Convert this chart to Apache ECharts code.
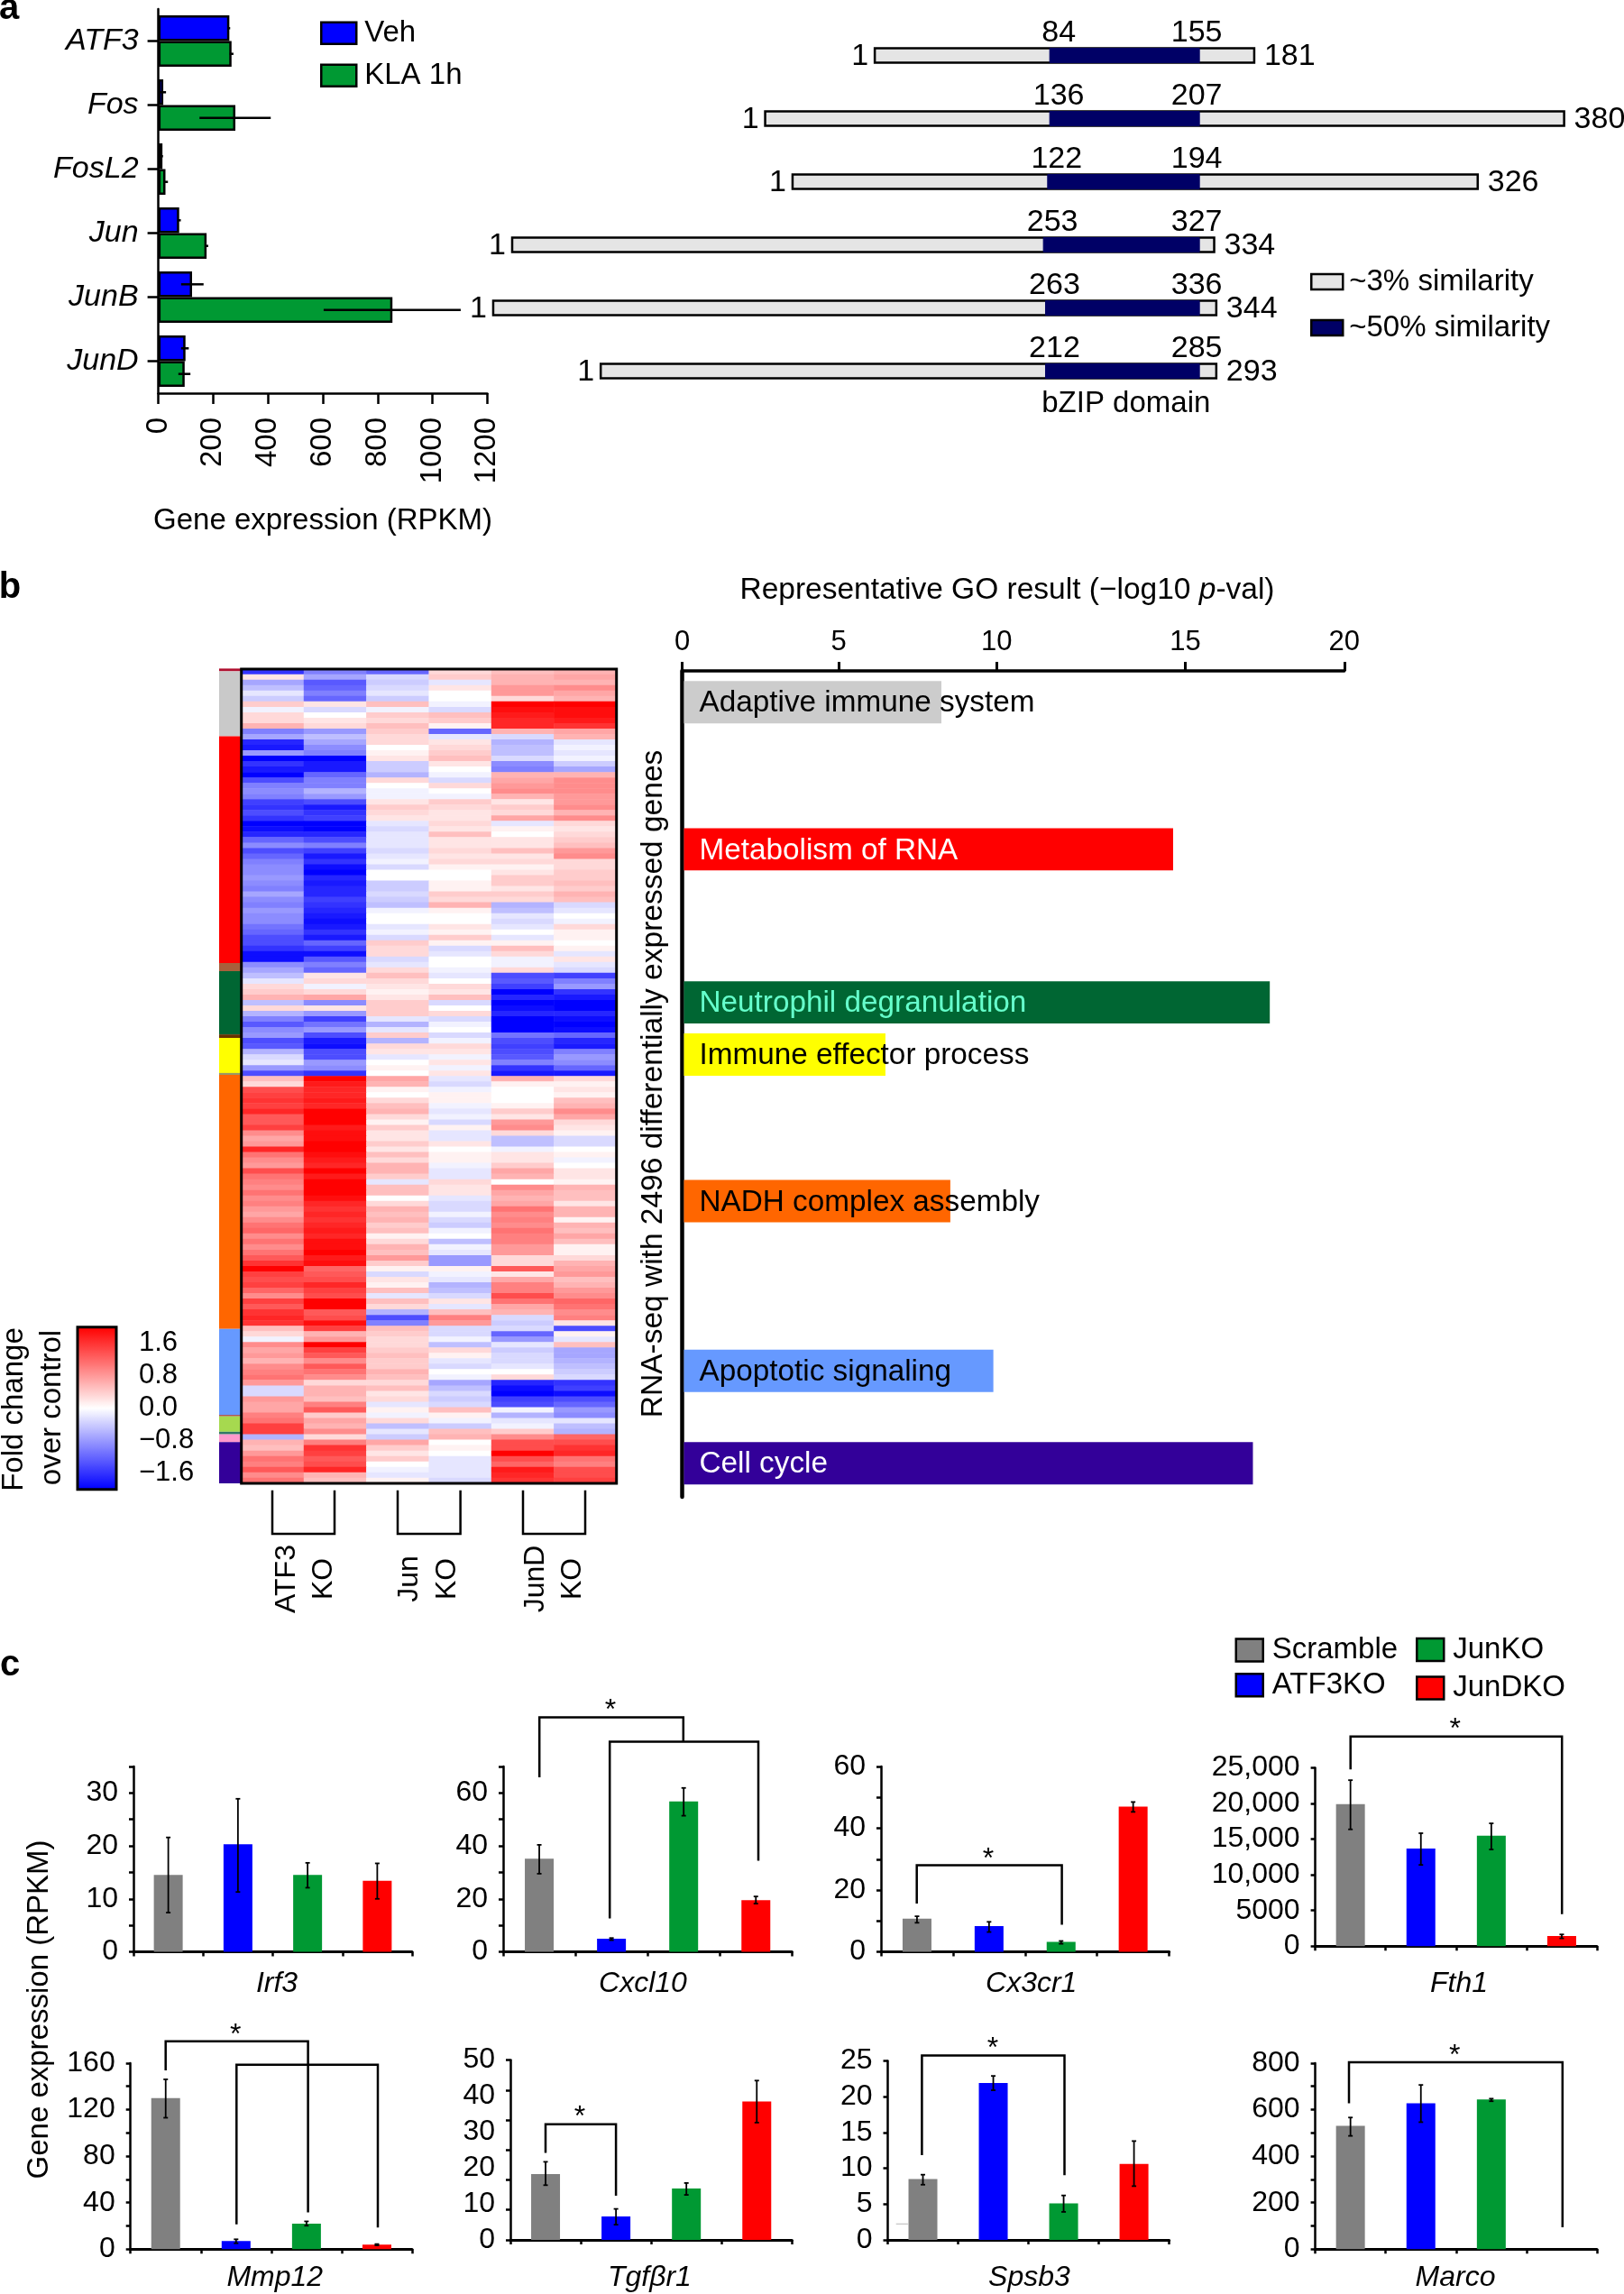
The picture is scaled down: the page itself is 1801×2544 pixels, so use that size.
<!DOCTYPE html>
<html><head><meta charset="utf-8">
<style>html,body{margin:0;padding:0;background:#fff}#c{width:1801px;height:2544px}</style>
<script src="https://cdn.jsdelivr.net/npm/echarts@6/dist/echarts.min.js"></script>
</head><body><div id="c"></div>
<script>
const FONT='"Liberation Sans"', NARROW='"Liberation Sans Narrow","Liberation Sans"';
// ---- panel a: expression
const geneNames=['ATF3','Fos','FosL2','Jun','JunB','JunD'];
const vehValues=[259,18,15,76,123,99];
const klaValues=[267,281,26,176,854,96];
const vehErrLow=[256,8,13,70,83,83];
const vehErrHigh=[262,28,17,82,165,111];
const klaErrLow=[260,150,20,170,603,73];
const klaErrHigh=[274,410,35,182,1103,117];
const exprTicks=[0,200,400,600,800,1000,1200];
// ---- panel a: protein domains
const proteinLen=[181,380,326,334,344,293];
const domainStart=[84,136,122,253,263,212];
const domainEnd=[155,207,194,327,336,285];
// ---- panel b: GO terms
const goTerms=['Adaptive immune system','Metabolism of RNA','Neutrophil degranulation','Immune effector process','NADH complex assembly','Apoptotic signaling','Cell cycle'];
const goValues=[7.83,14.83,17.75,6.14,8.1,9.4,17.24];
const goRowCenters=[6.1,33.2,61.4,71,98,129.3,146.3];
const goColors=['#cccccc','#ff0000','#006633','#ffff00','#ff6600','#6699ff','#330099'];
const goTextColors=['#000','#fff','#66ffcc','#000','#000','#000','#fff'];
const goTickPos=[0,4.73,9.5,15.2,20];
const goTickLabels=['0','5','10','15','20'];
// ---- panel b: side bar clusters (row start, row end, colour)
const clusterStart=[-0.1,0.4,12.36,54.15,55.65,67.3,67.95,74.4,74.75,121.55,137.4,137.65,140.5,140.97,142.4];
const clusterEnd=[0.4,12.36,54.15,55.65,67.3,67.95,74.4,74.75,121.55,137.4,137.65,140.5,140.97,142.4,150];
const clusterColors=['#b01030','#c9c9c9','#ff0000','#a8603c','#006633','#663300','#ffff00','#999966','#ff6600','#6699ff','#a04040','#a6d94f','#337766','#ff99cc','#330099'];
// ---- panel b: heatmap, rows top to bottom, fold change x10
const heatColumns=['ATF3 KO 1','ATF3 KO 2','Jun KO 1','Jun KO 2','JunD KO 1','JunD KO 2'];
const heatRows=[
[-16,-10,-12,3,5,6],[2,-7,-3,4,6,7],[-7,-13,-4,-2,6,6],[-5,-12,-3,2,8,9],[-2,-10,-2,0,8,7],[-4,-12,-4,0,3,6],
[4,2,5,-1,20,20],[-1,-3,-1,-3,19,19],[3,0,4,5,18,19],[3,2,3,4,17,18],[6,3,5,1,17,16],[-10,-8,4,-12,6,7],[-7,-5,3,-2,-3,6],
[-17,-7,3,2,-6,-2],[-18,-9,0,3,-5,-1],[-8,-10,1,4,-5,-2],[-20,-20,2,5,-3,-1],[-16,-18,-4,2,-9,-4],[-18,-18,-4,0,-10,-7],
[-20,-12,-6,-1,6,6],[-14,-10,3,-3,7,9],[-10,-10,0,3,8,9],[-9,-6,-1,0,9,9],[-10,-8,-1,-1,6,8],
[-15,-14,2,4,2,8],[-16,-18,4,3,4,9],[-14,-16,3,2,3,6],[-16,-15,2,2,7,9],[-20,-20,-2,3,-2,3],[-19,-20,-3,2,1,2],[-17,-17,-2,5,0,3],
[-12,-14,-2,2,2,4],[-9,-10,-2,2,2,5],[-14,-15,-3,3,5,8],[-12,-18,-2,2,2,9],[-10,-16,-1,3,3,3],
[-9,-19,-3,1,1,3],[-9,-20,0,0,2,4],[-8,-17,0,0,4,4],[-9,-18,-4,1,4,5],[-10,-17,-4,1,2,4],[-7,-17,-3,4,4,6],[-9,-15,-4,3,3,5],
[-10,-16,-5,6,-6,-3],[-8,-17,-1,1,-5,-2],[-9,-18,0,0,-2,0],[-9,-19,0,0,-3,-1],[-11,-18,-2,2,-2,3],[-12,-16,-1,1,0,1],[-14,-18,-3,4,-2,1],
[-14,-12,4,1,1,0],[-16,-15,3,-3,5,1],[-19,-19,3,-2,3,-2],[-19,-13,-3,0,-1,2],[-9,-10,-2,0,-1,-2],[-7,-12,3,-1,3,-3],
[-5,2,5,-2,-14,-15],[-2,3,3,0,-13,-10],[3,-1,2,3,-15,-8],[4,3,1,2,-20,-16],[6,7,2,5,-17,-18],[-5,-9,4,-3,-20,-20],[3,2,4,0,-19,-20],[-6,-8,4,3,-17,-17],
[-10,-15,-2,-3,-20,-19],[-13,-11,-6,-1,-20,-20],[-9,-8,-2,0,-20,-19],[-8,-14,4,-3,-11,-12],[-14,-18,-6,-1,-14,-17],[-13,-19,3,3,-15,-18],
[-6,-14,2,2,-14,-10],[-3,-14,-2,-1,-13,-8],[-2,-8,0,2,-10,-9],[-8,-9,1,-1,-16,-12],[-14,-16,0,2,-18,-18],
[5,20,7,-2,6,3],[3,18,6,-3,1,1],[14,17,1,-1,0,2],[15,17,0,1,0,1],[16,18,3,1,0,5],[15,17,5,-1,1,6],[17,20,6,-2,4,9],[13,20,3,-1,2,7],[13,20,1,-3,8,3],[15,18,4,1,9,2],
[9,19,2,-2,3,1],[7,19,2,-2,-5,-3],[8,20,4,2,-5,-3],[17,20,2,0,-1,0],[11,19,5,1,2,1],[9,18,3,1,2,-1],[8,17,6,-1,4,0],[14,20,6,-2,7,2],[11,18,4,-2,6,2],[10,20,-2,3,0,1],
[9,20,5,2,9,6],[11,20,5,2,7,5],[9,19,0,-2,6,5],[10,17,3,-3,7,2],[8,16,6,-3,11,6],
[7,17,5,-1,9,6],[9,16,6,-3,10,1],[11,17,4,-4,9,6],[12,18,5,-1,11,5],[9,17,1,0,10,7],[11,19,3,-5,10,5],[9,19,6,-1,8,1],[11,20,5,-2,8,1],[13,18,8,-8,3,3],[16,19,4,-8,3,6],
[20,12,1,1,13,7],[15,13,-3,-1,2,8],[14,14,2,-2,7,5],[15,17,1,-6,10,6],[12,15,5,-5,10,8],[9,14,-2,-3,14,9],[15,20,5,2,11,12],[13,20,3,-2,7,11],[16,13,-6,5,6,9],[17,14,-14,10,-3,10],
[16,19,-10,8,-4,2],[5,15,5,-3,-3,-14],[3,6,4,-3,-12,1],[-1,8,3,-1,-8,-2],[9,20,3,-5,-2,5],[7,15,4,3,-4,-7],[8,13,5,1,-3,-7],[6,9,4,-2,-3,-6],[9,13,4,-3,-2,-5],[10,11,6,0,0,-4],
[11,9,5,-1,3,-3],[8,3,3,-7,-17,-16],[-3,6,5,-5,-19,-15],[-3,6,2,-3,-20,-19],[8,5,3,-4,-15,-14],[7,10,-2,-3,-14,-12],[7,13,1,5,-1,-8],[10,4,-1,1,-6,-9],[11,7,3,-1,-2,-2],[15,6,-5,-4,-1,-5],
[15,9,-2,5,4,-6],[-6,3,-4,6,9,12],[6,10,7,0,14,14],[5,16,4,1,14,16],[8,15,2,0,20,17],[11,13,4,-2,14,11],[10,14,0,-2,12,10],[13,17,-1,-2,18,14],[9,6,-2,-2,17,14],[11,5,1,-3,16,15]
];
// ---- panel c: small charts
const koGroups=['Scramble','ATF3KO','JunKO','JunDKO'];
const koColors=['#808080','#0000ff','#009933','#ff0000'];
const irf3Values=[14.5,20.3,14.5,13.4], irf3Low=[7.4,11.3,12.1,10], irf3High=[21.6,28.9,16.8,16.7];
const cxcl10Values=[35.2,4.9,56.8,19.5], cxcl10Low=[29.5,4.4,51.4,18.2], cxcl10High=[40.4,5.2,61.9,20.9];
const cx3cr1Values=[10.7,8.3,3.2,47], cx3cr1Low=[9.4,6.4,2.6,45.3], cx3cr1High=[11.5,9.7,3.5,48.5];
const fth1Values=[19900,13670,15470,1440], fth1Low=[16370,11390,13550,1100], fth1High=[23260,15830,17210,1650];
const mmp12Values=[129.8,7,22,4], mmp12Low=[113,5.1,20.2,3.3], mmp12High=[146,8.5,23.9,4.4];
const tgfbr1Values=[18.3,6.5,14.3,38.5], tgfbr1Low=[15.2,4.2,12.5,32.6], tgfbr1High=[21.7,8.6,15.8,44.3];
const spsb3Values=[8.5,21.9,5.1,10.6], spsb3Low=[7.7,20.9,3.9,7.5], spsb3High=[9.1,22.9,6.2,13.8];
const marcoValues=[530,627,644,null], marcoLow=[487,546,636,null], marcoHigh=[566,706,647,null];
const irf3Ticks=[0,10,20,30], cxcl10Ticks=[0,20,40,60], cx3cr1Ticks=[0,20,40,60], fth1Ticks=[0,5000,10000,15000,20000,25000];
const mmp12Ticks=[0,40,80,120,160], tgfbr1Ticks=[0,10,20,30,40,50], spsb3Ticks=[0,5,10,15,20,25], marcoTicks=[0,200,400,600,800];

const smallCharts=[
 {name:'Irf3',v:irf3Values,lo:irf3Low,hi:irf3High,t:irf3Ticks,max:35,step:5,l:148,r:457,top:1959,bot:2164.5,nameX:307,nameY:2200},
 {name:'Cxcl10',v:cxcl10Values,lo:cxcl10Low,hi:cxcl10High,t:cxcl10Ticks,max:70,step:10,l:558,r:878.3,top:1959,bot:2164.5,nameX:713,nameY:2200},
 {name:'Cx3cr1',v:cx3cr1Values,lo:cx3cr1Low,hi:cx3cr1High,t:cx3cr1Ticks,max:60,step:10,l:977,r:1296.6,top:1959,bot:2164.5,nameX:1143.7,nameY:2200},
 {name:'Fth1',v:fth1Values,lo:fth1Low,hi:fth1High,t:fth1Ticks,max:25000,step:5000,l:1458.6,r:1771,top:1960.4,bot:2158.3,nameX:1618,nameY:2200},
 {name:'Mmp12',v:mmp12Values,lo:mmp12Low,hi:mmp12High,t:mmp12Ticks,max:160,step:20,l:144.7,r:457,top:2287.9,bot:2494.3,nameX:304.8,nameY:2526},
 {name:'Tgfβr1',v:tgfbr1Values,lo:tgfbr1Low,hi:tgfbr1High,t:tgfbr1Ticks,max:50,step:10,l:566,r:878.3,top:2284.6,bot:2483.9,nameX:720.4,nameY:2526},
 {name:'Spsb3',v:spsb3Values,lo:spsb3Low,hi:spsb3High,t:spsb3Ticks,max:25,step:5,l:984.5,r:1296.6,top:2285.5,bot:2483.9,nameX:1141.4,nameY:2526},
 {name:'Marco',v:marcoValues,lo:marcoLow,hi:marcoHigh,t:marcoTicks,max:800,step:100,l:1458.6,r:1771,top:2287.9,bot:2494.3,nameX:1614,nameY:2526}
];
// significance brackets (annotation lines, page px)
const brackets=[
 [[598.2,1970.9],[598.2,1904.4],[757.8,1904.4],[757.8,1931.5]],
 [[676.2,2127.5],[676.2,1931.5],[841,1931.5],[841,2063.4]],
 [[1016.7,2110.9],[1016.7,2068.6],[1177.6,2068.6],[1177.6,2134.6]],
 [[1497.7,1962.3],[1497.7,1925.8],[1732.2,1925.8],[1732.2,2122.7]],
 [[183.7,2296],[183.7,2263.7],[341.6,2263.7],[341.6,2453.5]],
 [[262.3,2466.8],[262.3,2289.8],[419,2289.8],[419,2470.2]],
 [[605,2387.6],[605,2355.8],[683.1,2355.8],[683.1,2435]],
 [[1022.4,2389.9],[1022.4,2279.4],[1180.5,2279.4],[1180.5,2412.2]],
 [[1496,2332.5],[1496,2287],[1732.8,2287],[1732.8,2470]],
 [[302,1652.7],[302,1701],[371,1701],[371,1652.7]],
 [[441,1652.7],[441,1701],[510.6,1701],[510.6,1652.7]],
 [[580,1652.7],[580,1701],[649,1701],[649,1652.7]]
];
const stars=[[677,1890],[1096,2055],[1613.8,1911.5],[261.2,2250],[643,2341],[1101,2265],[1613.2,2273]];

const grids=[],xAxes=[],yAxes=[],series=[];
const BLACK='#000';
const hid={show:false};
function addGrid(l,t,w,h,x,y,extra){
  grids.push(Object.assign({left:l,top:t,width:w,height:h,containLabel:false},extra||{}));
  const i=grids.length-1;
  xAxes.push(Object.assign({gridIndex:i},x)); yAxes.push(Object.assign({gridIndex:i},y));
  return i;
}
// --- panel a bars
const gA=addGrid(175.6,10,364.8,426,
 {type:'value',min:0,max:1200,interval:200,position:'bottom',splitLine:hid,
  axisLine:{show:true,onZero:false,lineStyle:{color:BLACK,width:2.5}},axisTick:{show:true,length:12,lineStyle:{color:BLACK,width:2.5}},
  axisLabel:{rotate:90,margin:27,fontSize:33,fontFamily:NARROW,color:BLACK,hideOverlap:false,showMinLabel:true,showMaxLabel:true,formatter:v=>String(v)},
  name:'Gene expression (RPKM)',nameLocation:'middle',nameGap:125,nameTextStyle:{fontSize:33,color:BLACK,fontFamily:FONT}},
 {type:'category',inverse:true,data:geneNames,axisLine:{show:true,lineStyle:{color:BLACK,width:2.5}},
  axisTick:{show:true,alignWithLabel:true,length:12,lineStyle:{color:BLACK,width:2.5}},
  axisLabel:{fontSize:34,fontStyle:'italic',color:BLACK,margin:22,interval:0,fontFamily:FONT}});
const barBorder={borderColor:BLACK,borderWidth:2.5};
series.push({name:'Veh',type:'bar',xAxisIndex:gA,yAxisIndex:gA,data:vehValues,barWidth:28.5,barGap:'0%',itemStyle:Object.assign({color:'#0000ff'},barBorder)});
series.push({name:'KLA 1h',type:'bar',xAxisIndex:gA,yAxisIndex:gA,data:klaValues,barWidth:28.5,barGap:'0%',itemStyle:Object.assign({color:'#009933'},barBorder)});
function hErr(low,high,sign){return {type:'custom',xAxisIndex:gA,yAxisIndex:gA,clip:false,z:5,silent:true,
  data:low.map((d,i)=>[d,high[i],i]),encode:{x:[0,1],y:2},
  renderItem(p,api){const a=api.coord([api.value(0),api.value(2)]),b=api.coord([api.value(1),api.value(2)]);
    const off=sign*api.size([0,1])[1]*0.2;
    return {type:'line',shape:{x1:a[0],y1:a[1]+off,x2:b[0],y2:b[1]+off},style:{stroke:BLACK,lineWidth:2.5}};}};}
series.push(hErr(vehErrLow,vehErrHigh,-1),hErr(klaErrLow,klaErrHigh,1));
// --- protein diagram: x axis in residues relative to the end of the bZIP domain
const gP=addGrid(395,26.5,1409,420,{type:'value',min:-400,max:201.4,show:false},
 {type:'category',inverse:true,show:false,data:geneNames});
series.push({type:'custom',xAxisIndex:gP,yAxisIndex:gP,clip:false,silent:true,
 data:proteinLen.map((len,i)=>[1-domainEnd[i],domainStart[i]-domainEnd[i],0,len-domainEnd[i],i]),
 encode:{x:[0,3],y:4},
 renderItem(p,api){
  const i=api.value(4),yc=api.coord([0,i])[1];
  const xa=api.coord([api.value(0),i])[0],xb=api.coord([api.value(1),i])[0],xc=api.coord([api.value(2),i])[0],xd=api.coord([api.value(3),i])[0];
  const h=api.size([0,1])[1]*0.226,y=yc-h/2,f=`34px ${FONT}`;
  const txt=(t,x,yy,al)=>({type:'text',style:{text:t,x:x,y:yy,align:al,verticalAlign:'middle',font:f,fill:BLACK}});
  return {type:'group',children:[
   {type:'rect',shape:{x:xa,y:y,width:xd-xa,height:h},style:{fill:'#e5e5e5',stroke:BLACK,lineWidth:2.5}},
   {type:'rect',shape:{x:xb,y:y,width:xc-xb,height:h},style:{fill:'#000066',stroke:'#000066',lineWidth:1}},
   txt('1',xa-7,yc+1,'right'),txt(String(proteinLen[i]),xd+11,yc+1.5,'left'),
   txt(String(domainStart[i]),xb+10,yc-24.5,'center'),txt(String(domainEnd[i]),xc-3,yc-24.5,'center')]};
 }});
// --- heatmap
const gH=addGrid(267.7,742,416,903,{type:'category',data:heatColumns,show:false},
 {type:'category',inverse:true,show:false,data:heatRows.map((r,i)=>i)},{show:true,borderColor:BLACK,borderWidth:3,z:4,backgroundColor:'transparent'});
const heatData=[];heatRows.forEach((r,y)=>r.forEach((v,x)=>heatData.push([x,y,v/10])));
const heatIdx=series.length;
series.push({type:'heatmap',xAxisIndex:gH,yAxisIndex:gH,data:heatData,silent:true,progressive:0,itemStyle:{borderWidth:0},z:1});
// --- cluster side bar
const gS=addGrid(243,742,24.5,903,{type:'value',min:0,max:1,show:false},{type:'value',min:0,max:150,inverse:true,show:false});
series.push({type:'custom',xAxisIndex:gS,yAxisIndex:gS,clip:false,silent:true,
 data:clusterStart.map((s,i)=>[0,1,s,clusterEnd[i],i]),encode:{x:[0,1],y:[2,3]},
 renderItem(p,api){const a=api.coord([api.value(0),api.value(2)]),b=api.coord([api.value(1),api.value(3)]);
  return {type:'rect',shape:{x:a[0],y:a[1],width:b[0]-a[0],height:b[1]-a[1]},style:{fill:clusterColors[api.value(4)]}};}});
// --- colour bar axis
const gC=addGrid(86,1471.7,43,180,{type:'value',min:0,max:1,show:false},
 {type:'value',min:-2,max:2,position:'right',interval:0.8,splitLine:hid,
  axisLine:{show:false},axisTick:{show:true,customValues:[-1.6,-0.8,0,0.8,1.6],length:12,lineStyle:{color:BLACK,width:2.5}},
  axisLabel:{customValues:[-1.6,-0.8,0,0.8,1.6],margin:25,fontSize:31,color:BLACK,fontFamily:FONT,align:'left',
   formatter:v=>(v<0?'\u2212':'')+Math.abs(v).toFixed(1)}},
 {show:true,borderColor:BLACK,borderWidth:3,z:10});
// --- GO bars
const gG=addGrid(756.5,744,734.3,916,
 {type:'value',min:0,max:20,position:'top',splitLine:hid,
  axisLine:{show:true,onZero:false,lineStyle:{color:BLACK,width:3.5}},axisTick:{show:true,customValues:goTickPos,length:10,lineStyle:{color:BLACK,width:3}},
  axisLabel:{customValues:goTickPos,margin:16,fontSize:31,color:BLACK,fontFamily:FONT,formatter:v=>goTickLabels[goTickPos.indexOf(v)]}},
 {type:'value',min:0.33,max:152.5,inverse:true,splitLine:hid,axisTick:hid,axisLabel:hid,
  axisLine:{show:true,onZero:false,lineStyle:{color:BLACK,width:4.5}},
  name:'RNA-seq with 2496 differentially expressed genes',nameLocation:'middle',nameRotate:90,nameGap:15,nameTextStyle:{fontSize:33.5,color:BLACK,fontFamily:FONT}});
series.push({type:'custom',xAxisIndex:gG,yAxisIndex:gG,clip:false,silent:true,z:3,
 data:goValues.map((v,i)=>[v,goRowCenters[i],i]),encode:{x:0,y:1},
 renderItem(p,api){const i=api.value(2),a=api.coord([0,api.value(1)]),b=api.coord([api.value(0),api.value(1)]),h=api.size([0,7.8])[1];
  return {type:'group',children:[
   {type:'rect',shape:{x:a[0]+2,y:a[1]-h/2,width:b[0]-a[0]-2,height:h},style:{fill:goColors[i]}},
   {type:'text',style:{text:goTerms[i],x:a[0]+19,y:a[1]+1.5,verticalAlign:'middle',font:`33.3px ${FONT}`,fill:goTextColors[i]}}]};}});
// --- small bar charts
smallCharts.forEach(c=>{
 const g=addGrid(c.l,c.top,c.r-c.l,c.bot-c.top,
  {type:'category',data:koGroups,axisLine:{show:true,lineStyle:{color:BLACK,width:3}},
   axisTick:{show:true,interval:0,length:5,lineStyle:{color:BLACK,width:2.5}},axisLabel:hid},
  {type:'value',min:0,max:c.max,interval:c.step,splitLine:hid,
   axisLine:{show:true,onZero:false,lineStyle:{color:BLACK,width:2.5}},
   axisTick:Object.assign({show:true,length:5,lineStyle:{color:BLACK,width:2.5}},c.name==='Tgfβr1'?{customValues:[0,8.33,16.67,25,33.33,41.67,50]}:{}),
   axisLabel:{margin:17,fontSize:32,color:BLACK,fontFamily:FONT,hideOverlap:false,padding:[5,0,0,0],
    formatter:v=>c.t.indexOf(v)<0?'':(v>=10000?String(v).replace(/(\d)(\d{3})$/,'$1,$2'):String(v))}});
 series.push({type:'bar',xAxisIndex:g,yAxisIndex:g,data:c.v,barWidth:32,silent:true,
   itemStyle:{color:p=>koColors[p.dataIndex]}});
 series.push({type:'custom',xAxisIndex:g,yAxisIndex:g,clip:false,silent:true,z:5,
   data:c.lo.map((d,i)=>[i,d,c.hi[i]]).filter(d=>d[1]!==null),encode:{x:0,y:[1,2]},
   renderItem(p,api){const a=api.coord([api.value(0),api.value(1)]),b=api.coord([api.value(0),api.value(2)]);
    const s={stroke:BLACK,lineWidth:1.8},cap=2.5;
    return {type:'group',children:[
     {type:'line',shape:{x1:a[0],y1:a[1],x2:b[0],y2:b[1]},style:s},
     {type:'line',shape:{x1:a[0]-cap,y1:a[1],x2:a[0]+cap,y2:a[1]},style:s},
     {type:'line',shape:{x1:b[0]-cap,y1:b[1],x2:b[0]+cap,y2:b[1]},style:s}]};}});
});
// --- legend-only series
const legendItems=[['Scramble','#808080',1369.5,1813.5],['ATF3KO','#0000ff',1369.5,1852.3],['JunKO','#009933',1570,1813],['JunDKO','#ff0000',1570,1855.5]];
legendItems.forEach(l=>series.push({name:l[0],type:'custom',coordinateSystem:'none',data:[],renderItem(){return null;},itemStyle:{color:l[1]}}));
series.push({name:'~3% similarity',type:'custom',coordinateSystem:'none',data:[],renderItem(){return null;},itemStyle:{color:'#e5e5e5'}});
series.push({name:'~50% similarity',type:'custom',coordinateSystem:'none',data:[],renderItem(){return null;},itemStyle:{color:'#000066'}});
function lg(name,color,left,top,w,h,bw,pad){return {left:left,top:top,itemWidth:w,itemHeight:h,itemGap:0,padding:0,selectedMode:false,icon:'rect',
  textStyle:{fontSize:33,color:BLACK,fontFamily:FONT,padding:[0,0,0,pad]},
  data:[{name:name,icon:'rect',itemStyle:{color:color,borderColor:BLACK,borderWidth:bw}}]};}
const legends=[
 lg('Veh','#0000ff',355,20.3,39,24,2.5,4),lg('KLA 1h','#009933',355,67.2,39,24,2.5,4),
 lg('~3% similarity','#e5e5e5',1453,296,35,17,2.5,2),lg('~50% similarity','#000066',1453,347,35,17,2.5,2)
].concat(legendItems.map(l=>lg(l[0],l[1],l[2],l[3],30,25,2.5,5)));
// --- graphic text and annotation lines
const gr=[];
const T=(text,x,y,o)=>gr.push(Object.assign({type:'text',x:x,y:y,silent:true,style:Object.assign({text:text,textAlign:'center',textVerticalAlign:'middle',font:`33px ${FONT}`,fill:BLACK},(o&&o.style)||{})},o&&o.rot?{rotation:Math.PI/2}:{}));
T('a',10,10,{style:{font:`bold 40px ${FONT}`}});
T('b',11,652,{style:{font:`bold 40px ${FONT}`}});
T('c',11,1847,{style:{font:`bold 40px ${FONT}`}});
T('bZIP domain',1248.8,448);
gr.push({type:'text',x:1117,y:655,silent:true,style:{text:'{a|Representative GO result (\u2212log10 }{i|p}{a|-val)}',textAlign:'center',textVerticalAlign:'middle',
  rich:{a:{font:`33.5px ${FONT}`,fill:BLACK},i:{font:`italic 33.5px ${FONT}`,fill:BLACK}}}});
T('Fold change',16,1563,{rot:1});T('over control',58,1561,{rot:1});
T('ATF3',318,1751,{rot:1,style:{font:`32px ${FONT}`}});T('KO',359.5,1751,{rot:1,style:{font:`32px ${FONT}`}});
T('Jun',454.5,1751,{rot:1,style:{font:`32px ${FONT}`}});T('KO',496,1751,{rot:1,style:{font:`32px ${FONT}`}});
T('JunD',593.7,1751,{rot:1,style:{font:`32px ${FONT}`}});T('KO',635,1751,{rot:1,style:{font:`32px ${FONT}`}});
T('Gene expression (RPKM)',44,2228.5,{rot:1});
smallCharts.forEach(c=>T(c.name,c.nameX,c.nameY,{style:{font:`italic 32px ${FONT}`}}));
brackets.forEach(b=>gr.push({type:'polyline',silent:true,shape:{points:b},style:{stroke:BLACK,lineWidth:2.5,fill:null}}));
stars.forEach(s=>T('*',s[0],s[1]+7,{style:{font:`32px ${FONT}`}}));
gr.push({type:'line',silent:true,shape:{x1:993.7,y1:2466.4,x2:1006.9,y2:2466.4},style:{stroke:'#cccccc',lineWidth:1.5}});

const chart=echarts.init(document.getElementById('c'),null,{renderer:'canvas',width:1801,height:2544});
chart.setOption({animation:false,backgroundColor:'#fff',textStyle:{fontFamily:FONT},
 grid:grids,xAxis:xAxes,yAxis:yAxes,series:series,legend:legends,
 visualMap:{type:'continuous',seriesIndex:heatIdx,min:-2,max:2,left:86,top:1471.7,itemWidth:43,itemHeight:180,padding:0,calculable:false,text:['',''],showLabel:false,
  inRange:{color:['#0000ff','#ffffff','#ff0000']},hoverLink:false},
 graphic:{elements:gr},tooltip:{show:false}});
</script></body></html>
